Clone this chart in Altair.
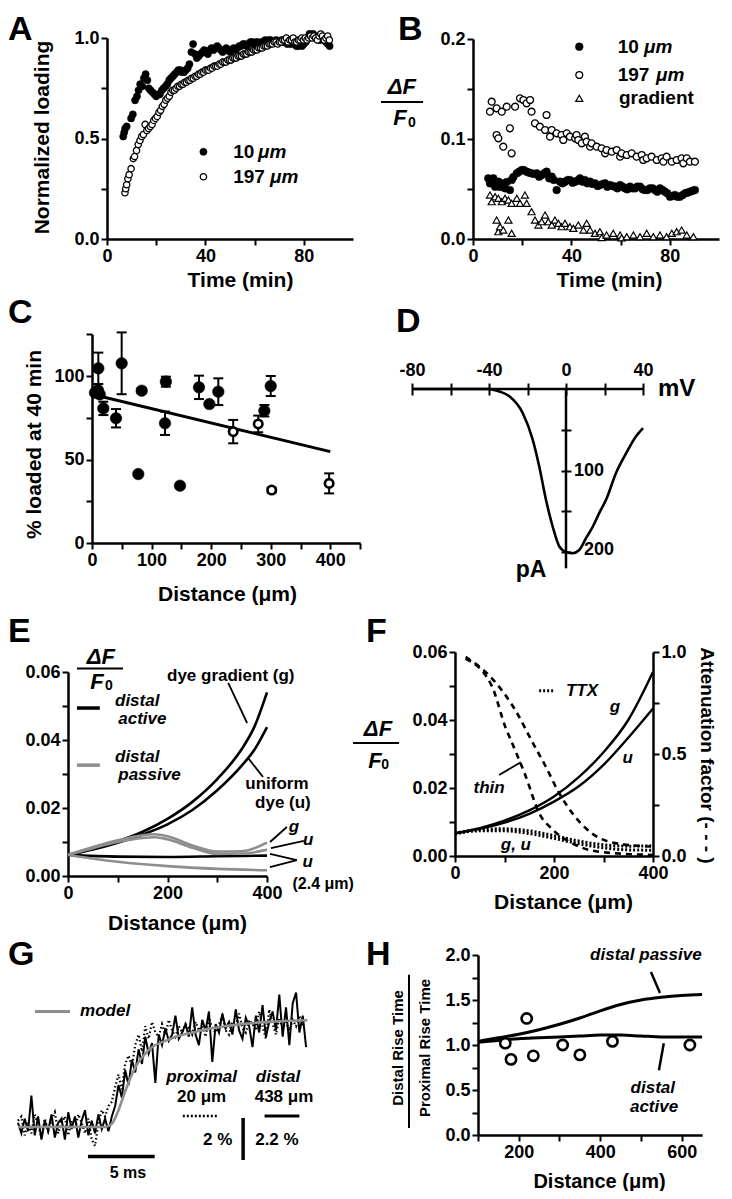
import json
import altair as alt
import pandas as pd

FONT = "Liberation Sans"
W, H = 716, 1183
GREY = "#8e8e8e"

# ======================= DATA =======================
# Panel A: normalized loading vs time (min)
A_10um = [(6.6,.51),(7.0,.53),(7.4,.55),(8.0,.56),(9.8,.60),(10.5,.62),(11.4,.69),(12.2,.71),(12.8,.74),(13.5,.77),(14.3,.76),(15.0,.80),(15.7,.82),(16.4,.79),(17.0,.75),(17.7,.74),(18.5,.73),(19.3,.72),(20.0,.71),(20.8,.72),(21.5,.72),(22.3,.74),(23.0,.75),(23.8,.76),(24.5,.77),(25.3,.79),(26.0,.80),(26.8,.81),(27.5,.82),(28.3,.83),(29.0,.84),(29.8,.84),(30.5,.83),(31.3,.83),(32.0,.84),(32.8,.85),(33.5,.87),(34.3,.93),(35.0,.97),(35.8,.92),(36.5,.90),(37.3,.91),(38.0,.92),(38.8,.93),(39.5,.94),(40.3,.93),(41.0,.92),(41.8,.94),(42.5,.95),(43.3,.94),(44.0,.95),(44.8,.96),(45.5,.95),(46.3,.94),(47.0,.93),(47.8,.94),(48.5,.95),(49.3,.94),(50.0,.93),(50.8,.94),(51.5,.95),(52.3,.94),(53.0,.95),(53.8,.96),(54.5,.96),(55.3,.97),(56.0,.97),(56.8,.96),(57.5,.97),(58.3,.98),(59.0,.98),(59.8,.97),(60.5,.98),(61.3,.98),(62.0,.97),(62.8,.98),(63.5,.98),(64.3,.99),(65.0,.98),(65.8,.99),(66.5,.99),(67.3,.98),(68.0,.98),(68.8,.99),(69.5,.98),(70.3,.98),(71.0,.99),(71.8,.98),(72.5,.98),(73.3,.97),(74.0,.98),(74.8,.97),(75.5,.98),(76.3,.97),(77.0,.96),(77.8,.96),(78.5,.97),(79.3,.96),(80.0,.97),(80.8,.98),(81.5,1.00),(82.3,1.02),(83.0,1.01),(83.8,1.02),(84.5,1.01),(85.3,1.00),(86.0,.99),(86.8,.99),(87.5,1.00),(88.3,1.00),(89.0,.98),(89.8,.97),(90.5,.96)]
A_197um = [(7.3,.23),(7.6,.25),(8.0,.27),(8.5,.30),(9.0,.32),(9.8,.35),(10.7,.40),(11.2,.41),(12.0,.44),(12.7,.47),(13.4,.49),(14.1,.51),(14.8,.52),(15.5,.57),(16.2,.54),(16.9,.55),(17.6,.56),(18.3,.57),(19.0,.59),(19.7,.60),(20.4,.61),(21.1,.63),(21.8,.64),(22.5,.66),(23.2,.67),(23.9,.69),(24.6,.70),(25.3,.71),(26.0,.73),(26.7,.74),(27.4,.74),(28.1,.75),(28.8,.76),(29.5,.76),(30.2,.77),(30.9,.77),(31.6,.78),(32.3,.78),(33.0,.79),(33.7,.79),(34.4,.80),(35.1,.80),(35.8,.81),(36.5,.81),(37.2,.82),(37.9,.82),(38.6,.83),(39.3,.83),(40.0,.84),(40.7,.84),(41.4,.84),(42.1,.85),(42.8,.85),(43.5,.86),(44.2,.86),(44.9,.86),(45.6,.87),(46.3,.87),(47.0,.88),(47.7,.88),(48.4,.88),(49.1,.89),(49.8,.89),(50.5,.89),(51.2,.90),(51.9,.90),(52.6,.90),(53.3,.91),(54.0,.91),(54.7,.91),(55.4,.92),(56.1,.92),(56.8,.92),(57.5,.93),(58.2,.93),(58.9,.93),(59.6,.94),(60.3,.94),(61.0,.94),(61.7,.95),(62.4,.95),(63.1,.95),(63.8,.96),(64.5,.96),(65.2,.96),(65.9,.97),(66.6,.97),(67.3,.97),(68.0,.98),(68.7,.98),(69.4,.97),(70.1,.98),(70.8,.98),(71.5,.99),(72.2,.99),(72.9,1.00),(73.6,.98),(74.3,.99),(75.0,.99),(75.7,1.00),(76.4,.98),(77.1,.98),(77.8,.99),(78.5,.99),(79.2,1.00),(79.9,.99),(80.6,1.00),(81.3,.99),(82.0,1.00),(82.7,1.01),(83.4,1.00),(84.1,1.01),(84.8,1.00),(85.5,.99),(86.2,1.01),(86.9,1.02),(87.6,1.01),(88.3,.99),(89.0,1.00),(89.7,1.01),(90.4,.99)]

# Panel B: dF/F0 vs time (min)
B_10um = [(6.2,.0607),(6.9,.0557),(7.6,.059),(8.3,.0607),(9.0,.0523),(10.3,.0573),(11.0,.052),(11.7,.0557),(13.0,.0507),(13.7,.057),(15.0,.049),(15.7,.059),(16.4,.062),(17.8,.0657),(18.8,.0673),(19.8,.069),(20.7,.069),(21.8,.0673),(22.9,.0663),(23.8,.0657),(24.8,.065),(25.9,.0657),(26.9,.0623),(27.9,.064),(28.9,.0657),(29.9,.0673),(31.0,.0607),(32.0,.0623),(32.9,.059),(34.0,.049),(35.4,.0573),(36.4,.0557),(37.4,.0573),(38.5,.059),(39.4,.059),(40.5,.0563),(41.5,.0573),(42.4,.0583),(43.5,.0607),(44.6,.0573),(45.5,.059),(46.5,.0557),(47.6,.0573),(48.6,.055),(49.6,.0557),(50.7,.053),(51.6,.054),(52.7,.055),(53.7,.0557),(54.6,.0523),(55.7,.054),(56.8,.053),(57.7,.0523),(58.7,.0507),(59.8,.054),(60.8,.0523),(61.8,.0507),(62.7,.0497),(63.8,.0523),(64.9,.0507),(65.9,.0507),(66.8,.0523),(67.9,.0523),(69.0,.0497),(69.9,.049),(70.9,.049),(71.9,.0507),(73.0,.0507),(74.0,.049),(74.9,.0473),(76.0,.0507),(77.1,.049),(78.0,.0473),(79.0,.0457),(80.1,.0423),(81.2,.043),(82.1,.044),(83.1,.0423),(84.1,.0423),(85.2,.044),(86.2,.0457),(87.1,.0463),(88.2,.0473),(89.3,.0483),(90.2,.049)]
B_197um = [(6.9,.1273),(7.6,.1373),(9.6,.1307),(9.6,.104),(10.3,.1007),(11.7,.1273),(12.3,.0923),(13.7,.1323),(15.0,.1107),(15.7,.0857),(17.1,.1323),(19.1,.1407),(20.5,.139),(21.8,.1357),(23.2,.139),(23.8,.1273),(25.2,.1157),(27.2,.1123),(29.3,.109),(29.9,.124),(31.3,.1023),(32.0,.109),(34.0,.1057),(36.0,.104),(36.7,.099),(38.1,.1057),(39.4,.1023),(41.5,.1007),(42.1,.104),(42.8,.099),(44.2,.0957),(45.5,.1023),(46.2,.0973),(47.6,.0923),(48.2,.0957),(50.3,.0923),(52.3,.0907),(53.7,.0857),(54.3,.089),(56.4,.0873),(58.4,.089),(59.8,.0823),(60.4,.0857),(62.5,.084),(64.5,.0857),(66.5,.0823),(68.6,.084),(69.2,.079),(70.6,.0807),(72.6,.0823),(74.7,.079),(76.7,.0807),(77.4,.0773),(78.7,.0823),(80.8,.0773),(82.8,.079),(84.8,.0807),(85.5,.0757),(86.9,.0807),(88.2,.0773),(90.2,.0773)]
B_gradient = [(6.9,.044),(7.6,.0373),(9.0,.0423),(9.6,.019),(10.3,.0407),(10.3,.0073),(11.0,.0123),(11.7,.0373),(12.3,.009),(13.0,.0407),(14.4,.039),(14.4,.019),(15.7,.0357),(15.7,.0057),(17.8,.0407),(19.1,.0357),(21.1,.044),(21.8,.0357),(23.8,.0273),(25.2,.019),(26.6,.014),(27.9,.0173),(29.3,.024),(30.6,.0173),(32.0,.014),(33.3,.019),(34.7,.0157),(36.0,.0123),(37.4,.0157),(39.4,.0123),(40.8,.0107),(42.8,.014),(44.9,.009),(46.2,.0157),(47.6,.009),(49.6,.0057),(51.6,.0073),(52.3,.0015),(54.3,.004),(57.0,.0057),(59.8,.004),(60.4,.0012),(62.5,.0023),(65.2,.004),(67.9,.0023),(70.6,.0057),(73.3,.0023),(76.0,.004),(78.7,.0023),(80.8,.0057),(82.8,.0073),(84.8,.009),(86.9,.004),(89.6,.0023)]

# Panel C: % loaded at 40 min vs distance (um); (distance, value, sem)
C_filled = [(5,90.0,0),(10,91.5,0),(13,89.0,0),(10.6,104.6,9.4),(19,80.6,4),(40.3,74.7,5.5),(49.8,107.6,18.5),(77.7,41.3,0),(83.4,91.2,1.5),(124,96.6,3),(122.5,71.7,7),(147.7,34.3,0),(179.6,93.2,7),(197,83.2,0),(212,90.6,8),(289.3,79.2,3.5),(300,94.0,6)]
C_open = [(237,66.7,7),(279,71.3,5),(301.6,31.7,1.5),(398,35.7,6)]
C_fit = [(5,88.6),(400,54.7)]

# Panel D: I-V curve (mV, pA inward)
D_iv = [(-80,0),(-60,0),(-40,0),(-38,0.8),(-34.6,3),(-29.4,9),(-22.5,29.5),(-17.3,62),(-13.9,95),(-10.4,136),(-6.9,169),(-3.5,193),(0,200),(3.5,201.5),(6.9,197.5),(10.4,183),(13.9,169),(17.3,152),(20.8,136),(26,103),(31.2,79),(36.4,58),(40,48)]

# Panel E: model dF/F0 vs distance (um)
E_act_g = [(0,.0062),(50,.0080),(100,.0102),(150,.0130),(200,.0168),(250,.0218),(300,.0285),(350,.0375),(375,.0440),(400,.0540)]
E_act_u = [(0,.0062),(50,.0078),(100,.0098),(150,.0122),(200,.0152),(250,.0194),(300,.0252),(350,.0326),(375,.0372),(400,.0438)]
E_pas_g = [(0,.0062),(50,.0085),(100,.0105),(150,.0120),(175,.0123),(200,.0117),(250,.0090),(300,.0072),(350,.0073),(400,.0098)]
E_pas_u = [(0,.0062),(50,.0082),(100,.0100),(150,.0112),(175,.0114),(200,.0108),(250,.0083),(300,.0065),(350,.0066),(400,.0077)]
E_act_thin = [(0,.0062),(100,.0057),(200,.0056),(300,.0058),(400,.0060)]
E_pas_thin = [(0,.0062),(100,.0042),(200,.0029),(300,.0021),(400,.0017)]

# Panel F: dF/F0 (left) and attenuation factor (right) vs distance
F_g = [(0,.0067),(50,.0082),(100,.0104),(150,.0134),(200,.0175),(250,.0232),(300,.0305),(350,.0400),(400,.0541)]
F_u = [(0,.0067),(50,.0080),(100,.0098),(150,.0124),(200,.0160),(250,.0205),(300,.0268),(350,.0348),(400,.0434)]
F_ttx_g = [(0,.0067),(50,.0078),(100,.0080),(150,.0074),(200,.0060),(250,.0044),(300,.0033),(350,.0029),(400,.0030)]
F_ttx_u = [(0,.0065),(50,.0074),(100,.0074),(150,.0066),(200,.0052),(250,.0036),(300,.0024),(350,.0018),(400,.0017)]
F_att = [(21.5,.976),(75,.87),(123,.71),(156,.56),(183,.44),(210,.31),(237,.21),(277,.11),(331,.06),(400,.046)]
F_att_thin = [(21.5,.967),(75,.83),(102,.63),(116,.55),(143,.39),(170,.21),(197,.13),(237,.062),(291,.021),(400,.005)]

# Panel G: optical traces, % change vs time (ms), sampled every 0.25 ms
G_step = 0.25
G_distal = [0.2,-0.3,0.4,-0.2,1.5,-0.4,0.5,-0.6,0.3,-0.2,0.6,-0.5,0.2,0.4,-0.6,0.7,-0.1,0.5,-0.5,0.3,0.8,-0.4,0.3,-0.3,0.6,-0.1,0.4,-0.2,
            0.5,1.0,2.0,1.4,2.7,2.0,3.2,2.6,3.7,3.0,4.3,3.5,4.0,2.1,4.4,3.9,
            4.7,4.1,4.4,5.3,4.2,4.5,4.9,4.3,5.7,4.4,3.9,5.1,4.6,5.5,3.1,4.9,4.5,5.4,4.7,5.0,4.4,5.6,4.6,4.2,5.2,4.8,3.8,5.3,4.5,5.8,4.3,5.0,5.5,4.6,6.3,4.3,5.7,3.9,5.9,6.4,4.5,5.3,3.8]
G_proximal = [0.3,0.5,-0.4,0.2,-0.3,0.6,0.1,-0.5,0.4,-0.2,0.3,0.7,-0.3,0.2,0.5,-0.4,0.3,-0.1,0.6,0.2,-0.3,0.4,-0.6,-0.9,0.2,0.8,0.5,1.0,
              1.2,1.9,2.5,1.8,3.0,3.4,2.9,3.9,4.4,3.6,4.8,4.2,5.0,4.5,4.3,4.9,
              4.4,5.1,4.6,4.3,4.8,4.5,4.9,4.7,4.4,5.0,4.6,4.8,4.3,5.2,4.7,4.5,4.9,5.3,4.6,4.4,5.0,4.8,5.4,4.7,4.5,5.1,4.9,4.6,5.5,4.8,4.2,5.6,4.9,4.4,5.2,4.7,5.0,4.6,5.1,4.8,5.3,4.9,5.0]
G_model = [(0,0),(6.5,0),(7.0,0.15),(7.5,0.8),(8.0,1.7),(8.5,2.5),(9.0,3.1),(9.5,3.5),(10,3.8),(11,4.1),(12,4.35),(13,4.5),(14,4.65),(15,4.75),(16,4.85),(17,4.92),(18,4.98),(19,5.02),(20,5.05),(21.6,5.08)]

# Panel H: rise-time ratio vs distance
H_pts = [(167,1.02),(181,.84),(219.5,1.295),(235.8,.88),(307.8,1.0),(350,.89),(430,1.04),(620,1.0)]
H_passive = [(100,1.04),(150,1.08),(200,1.12),(250,1.17),(300,1.23),(350,1.30),(400,1.38),(450,1.45),(500,1.50),(550,1.53),(600,1.55),(650,1.56)]
H_active = [(100,1.03),(150,1.05),(200,1.07),(250,1.08),(300,1.09),(350,1.10),(400,1.11),(450,1.11),(500,1.10),(550,1.09),(600,1.09),(650,1.09)]

# ======================= HELPERS =======================
BOLD = dict(font=FONT, fontWeight="bold", color="black")
ITB = dict(font=FONT, fontWeight="bold", fontStyle="italic", color="black")


def S(domain, rng):
    return alt.Scale(domain=domain, range=rng, nice=False, zero=False)


def ax(orient, offset, values, show=None, fmt=None, title="", tx=None, ty=None, **kw):
    a = dict(orient=orient, offset=offset, values=values, title=title)
    if fmt:
        a["format"] = fmt
    if show is not None:
        a["labelExpr"] = f"indexof({json.dumps(show)}, datum.value) >= 0 ? datum.label : ''"
    if tx is not None:
        a.update(titleX=tx, titleY=ty, titleAlign="center", titleBaseline="middle")
    a.update(kw)
    return alt.Axis(**a)


def P(pairs):
    return pd.DataFrame(pairs, columns=["x", "y"])


def T(label, x, y):
    return pd.DataFrame({"x": [x], "y": [y], "label": [label]})


def SEG(x, y, x2, y2):
    return pd.DataFrame({"x": [x], "y": [y], "x2": [x2], "y2": [y2]})


def text(df, X, Y, **mk):
    return alt.Chart(df).mark_text(**mk).encode(x=X, y=Y, text="label:N")


def rule(df, X, Y, **mk):
    return alt.Chart(df).mark_rule(**mk).encode(x=X, y=Y, x2=alt.X2("x2"), y2=alt.Y2("y2"))


def line(df, X, Y, **mk):
    return alt.Chart(df).mark_line(**mk).encode(x=X, y=Y)


def filled(df, X, Y, size, shape="circle"):
    return alt.Chart(df).mark_point(shape=shape, filled=True, fill="black", stroke="black",
                                    strokeWidth=0.5, size=size, opacity=1).encode(x=X, y=Y)


def hollow(df, X, Y, size, sw, shape="circle"):
    return alt.Chart(df).mark_point(shape=shape, filled=True, fill="white", stroke="black",
                                    strokeWidth=sw, size=size, opacity=1).encode(x=X, y=Y)


LETTER = dict(font=FONT, fontWeight="bold", color="black", fontSize=34, align="left", baseline="alphabetic")

# ======================= PANEL A =======================
XA = alt.X("x:Q", scale=S([0, 100], [99, 345]),
           axis=ax("bottom", 231 - H, [0, 20, 40, 60, 80], [0, 40, 80], "d", "Time  (min)", 232, 41))
YA = alt.Y("y:Q", scale=S([0, 1], [231, 30]),
           axis=ax("left", -99, [0, .25, .5, .75, 1], [0, .5, 1], ".1f", "Normalized loading", -65, 129))
pA = alt.layer(
    filled(P(A_10um), XA, YA, 52),
    hollow(P(A_197um), XA, YA, 40, 1.3),
    filled(P([(39.2, .434)]), XA, YA, 52),
    hollow(P([(39.2, .31)]), XA, YA, 40, 1.3),
    text(T("10", 51.3, .434), XA, YA, align="left", fontSize=19, **BOLD),
    text(T("μm", 61.4, .434), XA, YA, align="left", fontSize=19, **ITB),
    text(T("197", 51.3, .31), XA, YA, align="left", fontSize=19, **BOLD),
    text(T("μm", 66.3, .31), XA, YA, align="left", fontSize=19, **ITB),
    text(T("A", -40.2, .990), XA, YA, **LETTER),
)

# ======================= PANEL B =======================
XB = alt.X("x:Q", scale=S([0, 100], [465, 711]),
           axis=ax("bottom", 231 - H, [0, 20, 40, 60, 80], [0, 40, 80], "d", "Time  (min)", 601, 41))
YB = alt.Y("y:Q", scale=S([0, .2], [231, 31]),
           axis=ax("left", -465, [0, .05, .1, .15, .2], [0, .1, .2], ".1f"))
pB = alt.layer(
    filled(P(B_10um), XB, YB, 60),
    hollow(P(B_197um), XB, YB, 48, 1.3),
    hollow(P(B_gradient), XB, YB, 50, 1.2, "triangle-up"),
    filled(P([(43.2, .1923)]), XB, YB, 60),
    hollow(P([(43.2, .164)]), XB, YB, 48, 1.3),
    hollow(P([(43.2, .1407)]), XB, YB, 50, 1.2, "triangle-up"),
    text(T("10", 58.8, .1923), XB, YB, align="left", fontSize=19, **BOLD),
    text(T("μm", 69.5, .1923), XB, YB, align="left", fontSize=19, **ITB),
    text(T("197", 58.8, .164), XB, YB, align="left", fontSize=19, **BOLD),
    text(T("μm", 74.4, .164), XB, YB, align="left", fontSize=19, **ITB),
    text(T("gradient", 59.3, .1407), XB, YB, align="left", fontSize=19, **BOLD),
    text(T("ΔF", -28.9, .1525), XB, YB, fontSize=22, **ITB),
    rule(SEG(-37.4, .137, -20.3, .137), XB, YB, strokeWidth=2, color="black"),
    text(T("F", -29.7, .1215), XB, YB, fontSize=22, **ITB),
    text(T("0", -24.8, .1165), XB, YB, fontSize=14, **BOLD),
    text(T("B", -30.5, .199), XB, YB, **LETTER),
)

# ======================= PANEL C =======================
XC = alt.X("x:Q", scale=S([0, 450], [84, 352.1]),
           axis=ax("bottom", 535 - H, list(range(0, 451, 50)), [0, 100, 200, 300, 400], "d",
                   "Distance  (μm)", 219, 51))
YC = alt.Y("y:Q", scale=S([0, 125], [535, 326.25]),
           axis=ax("left", -84, [0, 25, 50, 75, 100, 125], [0, 50, 100], "d", "% loaded at 40 min", -58, 436))
c_err = pd.DataFrame([(d, v - e, d, v + e) for d, v, e in C_filled + C_open if e > 0],
                     columns=["x", "y", "x2", "y2"])
c_caps = pd.DataFrame([(d, v + s * e) for d, v, e in C_filled + C_open if e > 0 for s in (-1, 1)],
                      columns=["x", "y"])
pC = alt.layer(
    line(P(C_fit), XC, YC, color="black", strokeWidth=3),
    rule(c_err, XC, YC, color="black", strokeWidth=2),
    alt.Chart(c_caps).mark_tick(orient="horizontal", size=10, thickness=2, color="black", opacity=1).encode(x=XC, y=YC),
    filled(pd.DataFrame([(d, v) for d, v, e in C_filled], columns=["x", "y"]), XC, YC, 135),
    hollow(pd.DataFrame([(d, v) for d, v, e in C_open], columns=["x", "y"]), XC, YC, 72, 2.6),
    text(T("C", -141, 131.7), XC, YC, **LETTER),
)

# ======================= PANEL D =======================
XD = alt.X("x:Q", scale=S([-80, 40], [404, 635]),
           axis=alt.Axis(orient="top", offset=-387, values=[-80, -60, -40, -20, 0, 20, 40], domain=False,
                         tickSize=12, labelPadding=4, title="",
                         labelExpr="indexof([-80,-40,0,40], datum.value) >= 0 ? (datum.value < 0 ? '-' + (-datum.value) : '' + datum.value) : ''"))
YD = alt.Y("y:Q", scale=S([0, 220], [381, 560.3]),
           axis=alt.Axis(orient="right", offset=553 - W, values=[50, 100, 150, 200], domain=False,
                         tickSize=10, labels=False, title=""))
pD = alt.layer(
    rule(SEG(-80, 0, 40, 0), XD, YD, color="black", strokeWidth=2.5),
    rule(SEG(0, 0, 0, 220), XD, YD, color="black", strokeWidth=2.5),
    line(P(D_iv), XD, YD, color="black", strokeWidth=2.6, interpolate="monotone"),
    text(T("100", 4.2, 100), XD, YD, align="left", fontSize=18, **BOLD),
    text(T("200", 9.4, 198), XD, YD, align="left", fontSize=18, **BOLD),
    text(T("mV", 47.8, 0), XD, YD, align="left", fontSize=24, **BOLD),
    text(T("pA", -18.2, 222), XD, YD, fontSize=23, **BOLD),
    text(T("D", -88.3, -70), XD, YD, **LETTER),
)

# ======================= PANEL E =======================
XE = alt.X("x:Q", scale=S([0, 400], [60, 259]),
           axis=ax("bottom", 868 - H, [0, 100, 200, 300, 400], [0, 200, 400], "d", "Distance  (μm)", 169, 47))
YE = alt.Y("y:Q", scale=S([0, .06], [868, 664]),
           axis=ax("left", -60, [0, .01, .02, .03, .04, .05, .06], [0, .02, .04, .06], ".2f"))
LW = dict(strokeWidth=2.6, interpolate="monotone")
pE = alt.layer(
    line(P(E_act_g), XE, YE, color="black", **LW),
    line(P(E_act_u), XE, YE, color="black", **LW),
    line(P(E_act_thin), XE, YE, color="black", **LW),
    line(P(E_pas_g), XE, YE, color=GREY, **LW),
    line(P(E_pas_u), XE, YE, color=GREY, **LW),
    line(P(E_pas_thin), XE, YE, color=GREY, **LW),
    rule(SEG(18, .0494, 64, .0494), XE, YE, color="black", strokeWidth=3.5),
    rule(SEG(18, .0326, 64, .0326), XE, YE, color=GREY, strokeWidth=3.5),
    text(T("distal", 94.5, .0516), XE, YE, align="left", fontSize=17, **ITB),
    text(T("active", 101, .0462), XE, YE, align="left", fontSize=17, **ITB),
    text(T("distal", 94.5, .0351), XE, YE, align="left", fontSize=17, **ITB),
    text(T("passive", 101, .0297), XE, YE, align="left", fontSize=17, **ITB),
    text(T("dye gradient (g)", 199, .0588), XE, YE, align="left", fontSize=17, **BOLD),
    rule(SEG(322, .0568, 360, .045), XE, YE, color="black", strokeWidth=1.8),
    rule(SEG(362, .0347, 392, .0291), XE, YE, color="black", strokeWidth=1.8),
    text(T("uniform", 420, .0271), XE, YE, fontSize=17, **BOLD),
    text(T("dye (u)", 432, .0215), XE, YE, fontSize=17, **BOLD),
    text(T("g", 454, .0145), XE, YE, fontSize=17, **ITB),
    rule(SEG(406, .0100, 440, .0144), XE, YE, color="black", strokeWidth=1.8),
    text(T("u", 483, .0106), XE, YE, fontSize=17, **ITB),
    rule(SEG(408, .0082, 474, .0103), XE, YE, color="black", strokeWidth=1.8),
    rule(SEG(406, .0065, 460, .0047), XE, YE, color="black", strokeWidth=1.8),
    rule(SEG(460, .0047, 406, .0026), XE, YE, color="black", strokeWidth=1.8),
    text(T("u", 482, .0041), XE, YE, fontSize=17, **ITB),
    text(T("(2.4 μm)", 513, -.0024), XE, YE, fontSize=16, **BOLD),
    text(T("ΔF", 66, .0644), XE, YE, fontSize=22, **ITB),
    rule(SEG(18, .0610, 110.5, .0610), XE, YE, color="black", strokeWidth=2),
    text(T("F", 58.3, .0572), XE, YE, fontSize=22, **ITB),
    text(T("0", 82.4, .0560), XE, YE, fontSize=14, **BOLD),
    text(T("E", -120.6, .0688), XE, YE, **LETTER),
)

# ======================= PANEL F =======================
XF = alt.X("x:Q", scale=S([0, 400], [447, 645]),
           axis=ax("bottom", 848 - H, [0, 100, 200, 300, 400], [0, 200, 400], "d", "Distance  (μm)", 555, 46))
YF = alt.Y("y:Q", scale=S([0, .06], [848, 644]),
           axis=ax("left", -447, [0, .01, .02, .03, .04, .05, .06], [0, .02, .04, .06], ".2f"))
YF2 = alt.Y("y:Q", scale=S([0, 1], [848, 644]),
            axis=ax("right", 645 - W, [0, .25, .5, .75, 1], [0, .5, 1], ".1f", "Attenuation factor (- - - )",
                    53, 747, titleAngle=90, titleFontSize=19))
F_left = alt.layer(
    line(P(F_g), XF, YF, color="black", strokeWidth=2.4, interpolate="monotone"),
    line(P(F_u), XF, YF, color="black", strokeWidth=2.4, interpolate="monotone"),
    line(P(F_ttx_g), XF, YF, color="black", strokeWidth=3, strokeDash=[2, 2], interpolate="monotone"),
    line(P(F_ttx_u), XF, YF, color="black", strokeWidth=3, strokeDash=[2, 2], interpolate="monotone"),
    rule(SEG(170, .0486, 200, .0486), XF, YF, color="black", strokeWidth=3, strokeDash=[2, 2]),
    text(T("TTX", 224, .0486), XF, YF, align="left", fontSize=17, **ITB),
    text(T("g", 323, .0438), XF, YF, fontSize=17, **ITB),
    text(T("u", 349, .0288), XF, YF, fontSize=17, **ITB),
    text(T("thin", 69, .0200), XF, YF, fontSize=17, **ITB),
    rule(SEG(89, .0238, 133, .0276), XF, YF, color="black", strokeWidth=1.8),
    text(T("g, u", 123, .0032), XF, YF, fontSize=17, **ITB),
    text(T("ΔF", -155.6, .0374), XF, YF, fontSize=22, **ITB),
    rule(SEG(-206, .0332, -113, .0332), XF, YF, color="black", strokeWidth=2),
    text(T("F", -161.6, .0280), XF, YF, fontSize=22, **ITB),
    text(T("0", -141, .0268), XF, YF, fontSize=14, **BOLD),
    text(T("F", -179.8, .0629), XF, YF, **LETTER),
)
F_right = alt.layer(
    line(P(F_att), XF, YF2, color="black", strokeWidth=2.6, strokeDash=[6, 5], interpolate="monotone"),
    line(P(F_att_thin), XF, YF2, color="black", strokeWidth=2.6, strokeDash=[6, 5], interpolate="monotone"),
)
pF = alt.layer(F_left, F_right).resolve_scale(y="independent")

# ======================= PANEL G =======================
XG = alt.X("x:Q", scale=S([0, 22], [10, 304.8]), axis=None)
YG = alt.Y("y:Q", scale=S([0, 5], [1119, 1014]), axis=None)
g_dist = pd.DataFrame({"x": [i * G_step for i in range(len(G_distal))], "y": G_distal})
g_prox = pd.DataFrame({"x": [i * G_step for i in range(len(G_proximal))], "y": G_proximal})
pG = alt.layer(
    line(g_prox, XG, YG, color="black", strokeWidth=2.2, strokeDash=[1.5, 2.5]),
    line(g_dist, XG, YG, color="black", strokeWidth=2),
    line(P(G_model), XG, YG, color=GREY, strokeWidth=2.6, interpolate="monotone"),
    rule(SEG(1.27, 5.50, 3.88, 5.50), XG, YG, color=GREY, strokeWidth=3),
    text(T("model", 4.63, 5.54), XG, YG, align="left", fontSize=17, **ITB),
    text(T("proximal", 13.7, 2.4), XG, YG, fontSize=17, **ITB),
    text(T("20 μm", 13.7, 1.44), XG, YG, fontSize=17, **BOLD),
    rule(SEG(12.3, .52, 14.95, .52), XG, YG, color="black", strokeWidth=2.5, strokeDash=[2, 2]),
    text(T("distal", 19.4, 2.4), XG, YG, fontSize=17, **ITB),
    text(T("438 μm", 19.85, 1.44), XG, YG, fontSize=17, **BOLD),
    rule(SEG(18.4, .52, 21.0, .52), XG, YG, color="black", strokeWidth=3),
    text(T("2 %", 16.0, -.62), XG, YG, align="right", fontSize=17, **BOLD),
    text(T("2.2 %", 17.7, -.62), XG, YG, align="left", fontSize=17, **BOLD),
    rule(SEG(16.8, .43, 16.8, -1.57), XG, YG, color="black", strokeWidth=3.5),
    rule(SEG(5.22, -1.41, 10.2, -1.41), XG, YG, color="black", strokeWidth=3.5),
    text(T("5 ms", 8.2, -2.2), XG, YG, fontSize=16, **BOLD),
    text(T("G", -0.75, 7.71), XG, YG, **LETTER),
)

# ======================= PANEL H =======================
XH = alt.X("x:Q", scale=S([100, 650], [470, 694.1]),
           axis=ax("bottom", 1127 - H, [100, 200, 300, 400, 500, 600], [200, 400, 600], "d",
                   "Distance  (μm)", 591, 46, titleFontSize=20))
YH = alt.Y("y:Q", scale=S([0, 2], [1127, 947]),
           axis=ax("left", -470, [0, .25, .5, .75, 1, 1.25, 1.5, 1.75, 2], [0, .5, 1, 1.5, 2], ".1f"))
pH = alt.layer(
    line(P(H_passive), XH, YH, color="black", strokeWidth=3, interpolate="monotone"),
    line(P(H_active), XH, YH, color="black", strokeWidth=3, interpolate="monotone"),
    hollow(P(H_pts), XH, YH, 105, 2.6),
    text(T("distal passive", 512, 2.0), XH, YH, fontSize=17, **ITB),
    rule(SEG(524.5, 1.811, 546.6, 1.578), XH, YH, color="black", strokeWidth=2.5),
    text(T("distal", 529, .52), XH, YH, fontSize=17, **ITB),
    text(T("active", 532, .31), XH, YH, fontSize=17, **ITB),
    rule(SEG(556, 1.02, 544, .72), XH, YH, color="black", strokeWidth=2.5),
    text(T("Distal Rise Time", -97.5, .967), XH, YH, angle=270, fontSize=15, **BOLD),
    rule(SEG(-69.3, 1.78, -69.3, .078), XH, YH, color="black", strokeWidth=2),
    text(T("Proximal Rise Time", -31.3, .967), XH, YH, angle=270, fontSize=15, **BOLD),
    text(T("H", -175, 1.89), XH, YH, **LETTER),
)

# ======================= COMPOSE =======================
chart = (
    alt.layer(pA, pB, pC, pD, pE, pF, pG, pH)
    .resolve_scale(x="independent", y="independent")
    .properties(width=W, height=H, padding=0, autosize=alt.AutoSizeParams(type="none"))
    .configure_view(strokeWidth=0)
    .configure_axis(grid=False, domainColor="black", domainWidth=2.5, tickColor="black", tickWidth=2,
                    tickSize=6, labelFlush=False, labelOverlap=False, labelFont=FONT, labelFontSize=18,
                    labelFontWeight="bold", labelColor="black", labelPadding=2, titleFont=FONT,
                    titleFontSize=21, titleFontWeight="bold", titleColor="black")
)

chart.save("out.html", embed_options={"renderer": "svg", "actions": False})
